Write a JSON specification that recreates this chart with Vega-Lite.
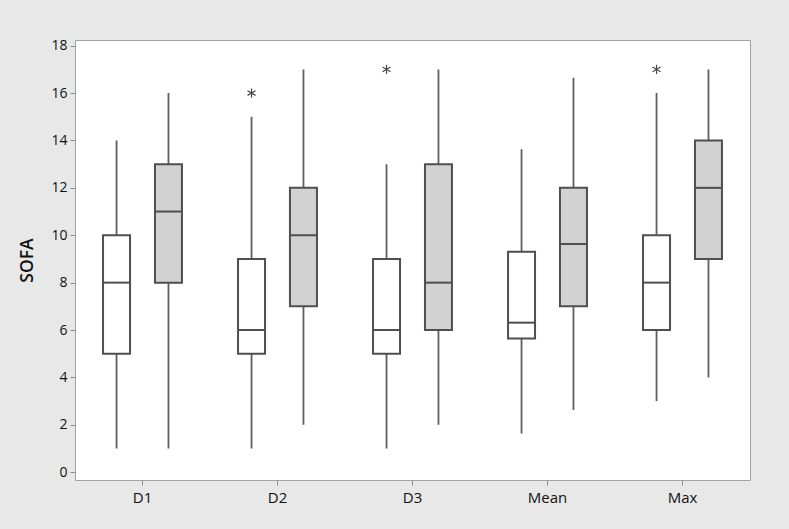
{
  "$schema": "https://vega.github.io/schema/vega-lite/v6.json",
  "width": 675,
  "height": 440,
  "autosize": {"type": "none"},
  "padding": {"left": 75, "top": 40, "right": 39, "bottom": 49},
  "background": "#e8e8e8",
  "config": {
    "view": {"fill": "white", "stroke": "#a3a3a3", "strokeWidth": 1},
    "font": "Open Sans",
    "axis": {
      "labelFont": "Open Sans",
      "titleFont": "Open Sans",
      "labelColor": "#111111",
      "titleColor": "#111111",
      "domain": false,
      "grid": false,
      "tickColor": "#8c8c8c",
      "tickSize": 5,
      "labelFontSize": 14
    }
  },
  "datasets": {
    "boxes": [
      {"measure": "D1", "group": "A", "lo": 1, "q1": 5, "med": 8, "q3": 10, "hi": 14},
      {"measure": "D1", "group": "B", "lo": 1, "q1": 8, "med": 11, "q3": 13, "hi": 16},
      {"measure": "D2", "group": "A", "lo": 1, "q1": 5, "med": 6, "q3": 9, "hi": 15},
      {"measure": "D2", "group": "B", "lo": 2, "q1": 7, "med": 10, "q3": 12, "hi": 17},
      {"measure": "D3", "group": "A", "lo": 1, "q1": 5, "med": 6, "q3": 9, "hi": 13},
      {"measure": "D3", "group": "B", "lo": 2, "q1": 6, "med": 8, "q3": 13, "hi": 17},
      {"measure": "Mean", "group": "A", "lo": 1.63, "q1": 5.64, "med": 6.31, "q3": 9.3, "hi": 13.63},
      {"measure": "Mean", "group": "B", "lo": 2.62, "q1": 7, "med": 9.63, "q3": 12, "hi": 16.65},
      {"measure": "Max", "group": "A", "lo": 3, "q1": 6, "med": 8, "q3": 10, "hi": 16},
      {"measure": "Max", "group": "B", "lo": 4, "q1": 9, "med": 12, "q3": 14, "hi": 17}
    ],
    "outliers": [
      {"measure": "D2", "group": "A", "value": 16},
      {"measure": "D3", "group": "A", "value": 17},
      {"measure": "Max", "group": "A", "value": 17}
    ]
  },
  "encoding": {
    "x": {
      "field": "measure",
      "type": "nominal",
      "sort": ["D1", "D2", "D3", "Mean", "Max"],
      "scale": {"paddingInner": 0, "paddingOuter": 0},
      "axis": {"title": null, "labelAngle": 0, "labelPadding": 5, "labelFontSize": 15}
    },
    "xOffset": {
      "field": "group",
      "type": "nominal",
      "sort": ["A", "B"],
      "scale": {"paddingInner": 0.48, "paddingOuter": 0.54}
    }
  },
  "layer": [
    {
      "data": {"name": "boxes"},
      "mark": {"type": "rule", "color": "#5f5f5f", "strokeWidth": 1.8},
      "encoding": {
        "y": {
          "field": "lo",
          "type": "quantitative",
          "scale": {"domain": [-0.33, 18.24], "nice": false, "zero": false},
          "axis": {
            "title": "SOFA",
            "titleFontSize": 17.5,
            "titleFontWeight": 600,
            "titlePadding": 14,
            "values": [0, 2, 4, 6, 8, 10, 12, 14, 16, 18],
            "labelPadding": 3
          }
        },
        "y2": {"field": "hi"}
      }
    },
    {
      "data": {"name": "boxes"},
      "mark": {"type": "bar", "stroke": "#4f4f4f", "strokeWidth": 2},
      "encoding": {
        "y": {"field": "q1", "type": "quantitative"},
        "y2": {"field": "q3"},
        "fill": {
          "field": "group",
          "type": "nominal",
          "scale": {"domain": ["A", "B"], "range": ["#ffffff", "#d2d2d2"]},
          "legend": null
        }
      }
    },
    {
      "data": {"name": "boxes"},
      "mark": {"type": "tick", "color": "#4f4f4f", "thickness": 2, "size": 28, "opacity": 1},
      "encoding": {
        "y": {"field": "med", "type": "quantitative"}
      }
    },
    {
      "data": {"name": "outliers"},
      "mark": {
        "type": "point",
        "shape": "M0,-1L0,1M-0.87,-0.5L0.87,0.5M-0.87,0.5L0.87,-0.5",
        "filled": false,
        "size": 85,
        "strokeWidth": 1.2,
        "color": "#4a4a4a",
        "opacity": 1
      },
      "encoding": {
        "y": {"field": "value", "type": "quantitative"}
      }
    }
  ]
}
